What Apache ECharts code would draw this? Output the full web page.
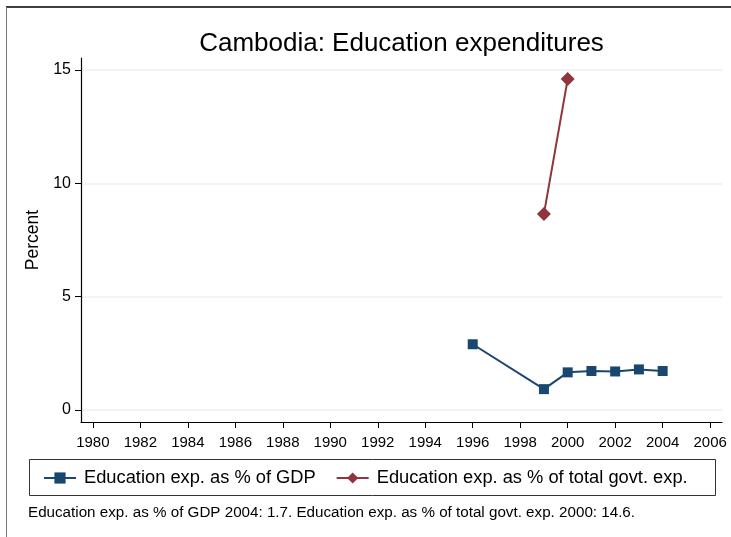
<!DOCTYPE html>
<html>
<head>
<meta charset="utf-8">
<script src="https://cdn.jsdelivr.net/npm/echarts@6/dist/echarts.min.js"></script>
<style>html,body{margin:0;padding:0;background:#fff}#c{width:731px;height:537px}</style>
</head>
<body>
<div id="c"></div>
<script>
var titleText = 'Cambodia: Education expenditures';
var seriesNames = ['Education exp. as % of GDP', 'Education exp. as % of total govt. exp.'];
var gdpYears = [1996, 1999, 2000, 2001, 2002, 2003, 2004];
var gdpValues = [2.9, 0.92, 1.66, 1.72, 1.70, 1.79, 1.72];
var govYears = [1999, 2000];
var govValues = [8.65, 14.6];
var xTicks = [1980,1982,1984,1986,1988,1990,1992,1994,1996,1998,2000,2002,2004,2006];
var yTicks = [0, 5, 10, 15];
var noteText = 'Education exp. as % of GDP 2004: 1.7. Education exp. as % of total govt. exp. 2000: 14.6.';
var yName = 'Percent';

var font = 'Liberation Sans, Arial, sans-serif';
var chart = echarts.init(document.getElementById('c'), null, {renderer: 'canvas'});
function pairs(xs, ys) { return xs.map(function (x, i) { return [x, ys[i]]; }); }

chart.setOption({
  backgroundColor: '#fff',
  animation: false,
  title: {
    text: titleText, left: 396.5, textAlign: 'center', top: 26,
    textStyle: {fontFamily: font, fontSize: 26, fontWeight: 'normal', color: '#000'}
  },
  grid: {left: 81, right: 9, top: 58, bottom: 115, containLabel: false},
  xAxis: {
    type: 'value', min: 1979.5, max: 2006.5,
    axisLine: {show: true, onZero: false, lineStyle: {color: '#000', width: 1.2}},
    axisTick: {show: true, customValues: xTicks, length: 6, lineStyle: {color: '#000'}},
    axisLabel: {customValues: xTicks, margin: 13, fontFamily: font, fontSize: 15, color: '#000',
      formatter: function (v) { return String(v); }},
    splitLine: {show: false}
  },
  yAxis: {
    type: 'value', min: -0.53, max: 15.53,
    name: yName, nameLocation: 'middle', nameGap: 36, nameRotate: 90,
    nameTextStyle: {fontFamily: font, fontSize: 17.5, color: '#000'},
    axisLine: {show: true, onZero: false, lineStyle: {color: '#000', width: 1.2}},
    axisTick: {show: true, customValues: yTicks, length: 6, lineStyle: {color: '#000'}},
    axisLabel: {customValues: yTicks, margin: 10, fontFamily: font, fontSize: 16, color: '#000'},
    splitLine: {show: false}
  },
  legend: {
    left: 38, top: 464, itemWidth: 32, itemHeight: 14, itemGap: 20,
    textStyle: {fontFamily: font, fontSize: 18.3, color: '#000', padding: [0, 0, 0, 3]},
    data: seriesNames
  },
  series: [
    {
      name: seriesNames[0], type: 'line', data: pairs(gdpYears, gdpValues),
      symbol: 'rect', symbolSize: 10, itemStyle: {color: '#1a476f'},
      lineStyle: {color: '#1a476f', width: 2},
      markLine: {
        silent: true, symbol: 'none', label: {show: false},
        lineStyle: {color: '#eaf2f3', width: 1.5, type: 'solid'},
        data: yTicks.map(function (v) { return {yAxis: v}; }),
        z: 0
      },
      z: 3
    },
    {
      name: seriesNames[1], type: 'line', data: pairs(govYears, govValues),
      symbol: 'diamond', symbolSize: 14, itemStyle: {color: '#90353b'},
      lineStyle: {color: '#90353b', width: 2}, z: 3
    }
  ],
  graphic: [
    {type: 'line', shape: {x1: 6, y1: 7, x2: 731, y2: 7}, style: {stroke: '#000', lineWidth: 1.5}},
    {type: 'line', shape: {x1: 6.5, y1: 7, x2: 6.5, y2: 537}, style: {stroke: '#777', lineWidth: 1}},
    {type: 'rect', shape: {x: 29.5, y: 459.5, width: 686, height: 36}, style: {fill: 'none', stroke: '#333', lineWidth: 1}},
    {type: 'text', left: 28, top: 505, style: {text: noteText, fontFamily: font, fontSize: 15.2, fill: '#000'}}
  ]
});
</script>
</body>
</html>
